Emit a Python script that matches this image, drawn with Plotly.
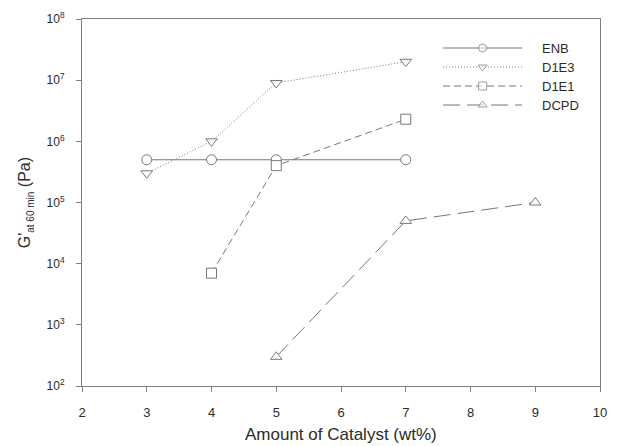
import plotly.graph_objects as go

# ---- data ----
series_names = ["ENB", "D1E3", "D1E1", "DCPD"]
enb_x = [3, 4, 5, 7]
enb_y = [5e5, 5e5, 5e5, 5e5]
d1e3_x = [3, 4, 5, 7]
d1e3_y = [3e5, 1e6, 9e6, 2e7]
d1e1_x = [4, 5, 7]
d1e1_y = [7e3, 4e5, 2.3e6]
dcpd_x = [5, 7, 9]
dcpd_y = [3e2, 5e4, 1e5]
x_ticks = [2, 3, 4, 5, 6, 7, 8, 9, 10]
y_tick_vals = [1e2, 1e3, 1e4, 1e5, 1e6, 1e7, 1e8]
y_tick_text = ["10<sup>%d</sup>" % p for p in range(2, 9)]

# ---- styles ----
GRAY = "#777777"
AXIS = "#808080"
TXT = "#2b2b2b"
FONT = "Liberation Sans, Arial, sans-serif"
styles = {
    "ENB": dict(dash="solid", symbol="circle"),
    "D1E3": dict(dash="1px,2px", symbol="triangle-down"),
    "D1E1": dict(dash="7px,4px", symbol="square"),
    "DCPD": dict(dash="17px,7px", symbol="triangle-up"),
}
data = {
    "ENB": (enb_x, enb_y),
    "D1E3": (d1e3_x, d1e3_y),
    "D1E1": (d1e1_x, d1e1_y),
    "DCPD": (dcpd_x, dcpd_y),
}

fig = go.Figure()
for name in series_names:
    xs, ys = data[name]
    st = styles[name]
    fig.add_trace(go.Scatter(
        x=xs, y=ys, mode="lines+markers", name=name, showlegend=False,
        line=dict(color=GRAY, width=1, dash=st["dash"]),
        marker=dict(symbol=st["symbol"], size=10, color="white",
                    line=dict(color=GRAY, width=1)),
    ))

# ---- custom legend (pixel-like overlay axis) ----
leg_x0, leg_xm, leg_x1, leg_text_x = 448, 488, 528, 546
leg_rows = [48, 67, 86, 105]
for name, yrow in zip(series_names, leg_rows):
    st = styles[name]
    fig.add_trace(go.Scatter(
        x=[leg_x0, leg_xm, leg_x1], y=[yrow, yrow, yrow],
        mode="lines+markers", showlegend=False, hoverinfo="skip",
        xaxis="x2", yaxis="y2",
        line=dict(color=GRAY, width=1, dash=st["dash"]),
        marker=dict(symbol=st["symbol"], size=[0, 8, 0], color="white",
                    line=dict(color=GRAY, width=1)),
    ))
    fig.add_annotation(x=leg_text_x, y=yrow, xref="x2", yref="y2",
                       text=name, showarrow=False, xanchor="left",
                       yanchor="middle", font=dict(size=13, color=TXT, family=FONT))

fig.update_layout(
    width=617, height=446,
    margin=dict(l=82, r=10, t=19, b=60),
    paper_bgcolor="white", plot_bgcolor="white",
    font=dict(family=FONT, color=TXT, size=12),
    xaxis=dict(range=[2, 10], tickvals=x_ticks, showgrid=False, zeroline=False,
               showline=True, linecolor=AXIS, linewidth=1, mirror=True,
               ticks="outside", ticklen=5, tickcolor=AXIS,
               ticklabelstandoff=9, tickfont=dict(size=13, color=TXT)),
    yaxis=dict(type="log", range=[2, 8], tickvals=y_tick_vals, ticktext=y_tick_text,
               showgrid=False, zeroline=False, showline=True, linecolor=AXIS,
               linewidth=1, mirror=True, ticks="outside", ticklen=5,
               tickcolor=AXIS, ticklabelstandoff=9, tickfont=dict(size=12, color=TXT)),
    xaxis2=dict(range=[82, 607], overlaying="x", visible=False, fixedrange=True),
    yaxis2=dict(range=[386, 19], overlaying="y", visible=False, fixedrange=True),
)

fig.add_annotation(text="G'<sub><span style='font-size:10px'>at 60 min</span></sub> (Pa)",
                   xref="paper", yref="paper",
                   x=-0.1086, y=0.5, textangle=-90, showarrow=False,
                   xanchor="center", yanchor="middle",
                   font=dict(size=16, color=TXT, family=FONT))
fig.add_annotation(text="Amount of Catalyst (wt%)", xref="paper", yref="paper",
                   x=0.5, y=-0.1335, showarrow=False, xanchor="center",
                   yanchor="middle", font=dict(size=17, color=TXT, family=FONT))

fig.write_html("out.html")
